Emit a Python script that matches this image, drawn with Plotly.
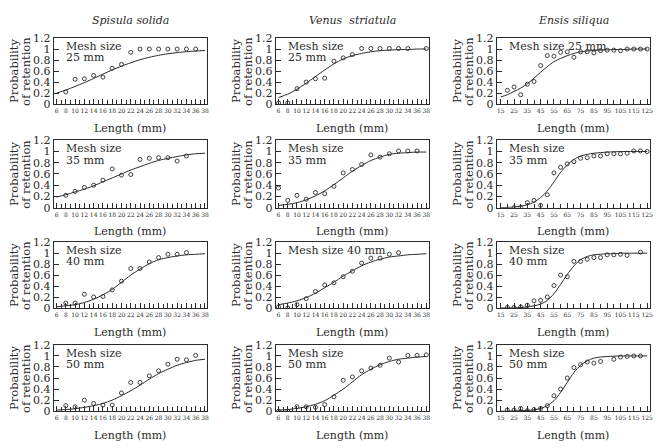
import plotly.graph_objects as go

species = ["Spisula solida", "Venus  striatula", "Ensis siliqua"]
mesh_labels = ["25 mm", "35 mm", "40 mm", "50 mm"]

# ---- Spisula solida ----
spis25_x = [8, 10, 12, 14, 16, 18, 20, 22, 24, 26, 28, 30, 32, 34, 36]
spis25_y = [0.22, 0.45, 0.46, 0.52, 0.49, 0.65, 0.72, 0.94, 1.0, 1.0, 1.0, 1.0, 1.0, 1.0, 1.0]
spis35_x = [8, 10, 12, 14, 16, 18, 20, 22, 24, 26, 28, 30, 32, 34]
spis35_y = [0.22, 0.29, 0.36, 0.40, 0.49, 0.69, 0.58, 0.59, 0.86, 0.88, 0.89, 0.89, 0.83, 0.92]
spis40_x = [8, 10, 12, 14, 16, 18, 20, 22, 24, 26, 28, 30, 32, 34]
spis40_y = [0.09, 0.09, 0.25, 0.20, 0.21, 0.33, 0.49, 0.72, 0.72, 0.84, 0.92, 0.98, 0.98, 1.01]
spis50_x = [8, 10, 12, 14, 16, 18, 20, 22, 24, 26, 28, 30, 32, 34, 36]
spis50_y = [0.10, 0.08, 0.20, 0.14, 0.11, 0.11, 0.33, 0.52, 0.52, 0.64, 0.73, 0.85, 0.94, 0.93, 1.01]

small_fit_x = [6, 8, 10, 12, 14, 16, 18, 20, 22, 24, 26, 28, 30, 32, 34, 36, 38]
spis25_fit = [0.20, 0.255, 0.32, 0.39, 0.466, 0.544, 0.62, 0.69, 0.75, 0.806, 0.85, 0.886, 0.914, 0.935, 0.952, 0.964, 0.974]
spis35_fit = [0.19, 0.23, 0.28, 0.33, 0.39, 0.46, 0.53, 0.60, 0.67, 0.73, 0.79, 0.84, 0.88, 0.91, 0.94, 0.96, 0.97]
spis40_fit = [0.02, 0.04, 0.06, 0.10, 0.16, 0.24, 0.34, 0.47, 0.60, 0.71, 0.81, 0.88, 0.92, 0.95, 0.97, 0.98, 0.99]
spis50_fit = [0.02, 0.03, 0.045, 0.07, 0.10, 0.14, 0.20, 0.28, 0.37, 0.47, 0.58, 0.68, 0.76, 0.83, 0.88, 0.92, 0.94]

# ---- Venus striatula ----
ven25_x = [6, 8, 10, 12, 14, 16, 18, 20, 22, 24, 26, 28, 30, 32, 34, 38]
ven25_y = [0.02, 0.02, 0.28, 0.40, 0.46, 0.47, 0.78, 0.84, 0.90, 1.01, 1.01, 1.01, 1.01, 1.01, 1.01, 1.01]
ven35_x = [6, 8, 10, 12, 14, 16, 18, 20, 22, 24, 26, 28, 30, 32, 34, 36]
ven35_y = [0.35, 0.13, 0.22, 0.15, 0.27, 0.25, 0.38, 0.62, 0.68, 0.77, 0.94, 0.90, 0.96, 1.01, 1.01, 1.01]
ven40_x = [6, 8, 10, 12, 14, 16, 18, 20, 22, 24, 26, 28, 30, 32]
ven40_y = [0.02, 0.0, 0.06, 0.17, 0.30, 0.42, 0.46, 0.57, 0.67, 0.82, 0.91, 0.91, 0.98, 1.01]
ven50_x = [6, 8, 10, 12, 14, 16, 18, 20, 22, 24, 26, 28, 30, 32, 34, 36, 38]
ven50_y = [0.0, 0.0, 0.08, 0.08, 0.07, 0.12, 0.26, 0.56, 0.62, 0.73, 0.78, 0.83, 0.96, 0.89, 1.01, 1.01, 1.02]

ven25_fit = [0.12, 0.18, 0.27, 0.38, 0.50, 0.62, 0.73, 0.82, 0.88, 0.92, 0.95, 0.97, 0.98, 0.99, 0.99, 1.0, 1.0]
ven35_fit = [0.04, 0.06, 0.09, 0.14, 0.21, 0.30, 0.41, 0.53, 0.65, 0.75, 0.84, 0.90, 0.95, 0.97, 0.98, 0.99, 0.99]
ven40_fit = [0.06, 0.09, 0.13, 0.19, 0.27, 0.37, 0.47, 0.58, 0.68, 0.77, 0.84, 0.89, 0.93, 0.95, 0.97, 0.98, 0.99]
ven50_fit = [0.02, 0.03, 0.05, 0.08, 0.125, 0.19, 0.29, 0.40, 0.53, 0.66, 0.76, 0.84, 0.90, 0.94, 0.96, 0.98, 0.99]

# ---- Ensis siliqua ----
ens25_x = [20, 25, 30, 35, 40, 45, 50, 55, 60, 65, 70, 75, 80, 85, 90, 95, 100, 105, 110, 115, 120, 125]
ens25_y = [0.25, 0.31, 0.17, 0.36, 0.41, 0.70, 0.88, 0.87, 0.94, 0.95, 0.85, 0.95, 0.95, 0.93, 0.97, 0.98, 0.98, 0.97, 1.0, 1.0, 1.0, 1.0]
ens35_x = [25, 30, 35, 40, 45, 50, 55, 60, 65, 70, 75, 80, 85, 90, 95, 100, 105, 110, 115, 120, 125]
ens35_y = [0.0, 0.0, 0.09, 0.13, 0.04, 0.23, 0.62, 0.72, 0.78, 0.82, 0.88, 0.89, 0.92, 0.92, 0.96, 0.96, 0.96, 0.97, 1.01, 1.01, 1.0]
ens40_x = [20, 25, 30, 35, 40, 45, 50, 55, 60, 65, 70, 75, 80, 85, 90, 95, 100, 105, 110, 120]
ens40_y = [0.01, 0.01, 0.02, 0.05, 0.13, 0.14, 0.20, 0.41, 0.60, 0.57, 0.85, 0.85, 0.89, 0.92, 0.92, 0.97, 0.97, 0.98, 0.96, 1.02]
ens50_x = [20, 25, 30, 35, 40, 45, 50, 55, 60, 65, 70, 75, 80, 85, 90, 100, 105, 110, 115, 120]
ens50_y = [0.02, 0.02, 0.05, 0.01, 0.03, 0.05, 0.10, 0.28, 0.40, 0.60, 0.79, 0.84, 0.89, 0.87, 0.90, 0.94, 0.98, 0.99, 1.0, 1.0]

large_fit_x = [15, 20, 25, 30, 35, 40, 45, 50, 55, 60, 65, 70, 75, 80, 85, 90, 95, 100, 105, 110, 115, 120, 125]
ens25_fit = [0.13, 0.17, 0.23, 0.29, 0.37, 0.47, 0.58, 0.68, 0.77, 0.83, 0.88, 0.92, 0.95, 0.965, 0.975, 0.98, 0.985, 0.99, 0.99, 0.995, 1.0, 1.0, 1.0]
ens35_fit = [0.0, 0.005, 0.01, 0.03, 0.05, 0.10, 0.18, 0.30, 0.46, 0.63, 0.76, 0.86, 0.92, 0.95, 0.97, 0.98, 0.99, 0.995, 1.0, 1.0, 1.0, 1.0, 1.0]
ens40_fit = [0.0, 0.0, 0.0, 0.01, 0.02, 0.04, 0.07, 0.14, 0.26, 0.43, 0.61, 0.77, 0.88, 0.94, 0.97, 0.98, 0.99, 0.99, 1.0, 1.0, 1.0, 1.0, 1.0]
ens50_fit = [0.0, 0.0, 0.005, 0.01, 0.012, 0.025, 0.05, 0.10, 0.19, 0.34, 0.52, 0.70, 0.83, 0.91, 0.96, 0.98, 0.99, 0.995, 1.0, 1.0, 1.0, 1.0, 1.0]

panels = [
    [(spis25_x, spis25_y, small_fit_x, spis25_fit), (ven25_x, ven25_y, small_fit_x, ven25_fit), (ens25_x, ens25_y, large_fit_x, ens25_fit)],
    [(spis35_x, spis35_y, small_fit_x, spis35_fit), (ven35_x, ven35_y, small_fit_x, ven35_fit), (ens35_x, ens35_y, large_fit_x, ens35_fit)],
    [(spis40_x, spis40_y, small_fit_x, spis40_fit), (ven40_x, ven40_y, small_fit_x, ven40_fit), (ens40_x, ens40_y, large_fit_x, ens40_fit)],
    [(spis50_x, spis50_y, small_fit_x, spis50_fit), (ven50_x, ven50_y, small_fit_x, ven50_fit), (ens50_x, ens50_y, large_fit_x, ens50_fit)],
]
one_line = {(0, 2), (2, 1)}

W, H = 663, 448
col_px = [(54, 208), (277, 431), (499, 653)]
row_px = [(33, 101), (138.3, 207.7), (243.3, 311), (349, 417.3)]
xranges = [[5.4, 38.45], [5.4, 38.6], [12.0, 127.2]]

FONT = "DejaVu Serif"
INK = "#2a2a2a"
fig = go.Figure()
annotations = []

for r in range(4):
    for c in range(3):
        n = r * 3 + c + 1
        xs, ys, fx, fy = panels[r][c]
        xa = "x" if n == 1 else f"x{n}"
        ya = "y" if n == 1 else f"y{n}"
        fig.add_trace(go.Scatter(x=fx, y=fy, mode="lines", line=dict(color=INK, width=1, shape="spline", smoothing=0.8),
                                 xaxis=xa, yaxis=ya, showlegend=False, hoverinfo="skip"))
        fig.add_trace(go.Scatter(x=xs, y=ys, mode="markers",
                                 marker=dict(symbol="circle-open", size=4, color=INK, line=dict(width=0.9, color=INK)),
                                 xaxis=xa, yaxis=ya, showlegend=False))
        x0, x1 = col_px[c]
        y0, y1 = row_px[r]
        if c < 2:
            tv = list(range(6, 39, 2))
            minor = dict(dtick=1, tick0=6, ticks="inside", ticklen=4, tickcolor=INK)
        else:
            tv = list(range(15, 126, 10))
            minor = dict(dtick=5, tick0=15, ticks="inside", ticklen=4, tickcolor=INK)
        xkey = "xaxis" if n == 1 else f"xaxis{n}"
        ykey = "yaxis" if n == 1 else f"yaxis{n}"
        fig.layout[xkey] = dict(domain=[x0 / W, x1 / W], anchor=ya, range=xranges[c],
                                tickvals=tv, ticktext=[str(v) for v in tv], ticks="inside", ticklen=5,
                                tickangle=0,
                                tickcolor=INK, minor=minor, showline=True, linecolor=INK, linewidth=1,
                                mirror=True, showgrid=False, zeroline=False,
                                tickfont=dict(family=FONT, size=6, color=INK), ticklabelstandoff=1)
        yv = [0, 0.2, 0.4, 0.6, 0.8, 1.0, 1.2]
        fig.layout[ykey] = dict(domain=[1 - y1 / H, 1 - y0 / H], anchor=xa, range=[0, 1.2],
                                tickvals=yv, ticktext=["0", "0.2", "0.4", "0.6", "0.8", "1", "1.2"],
                                ticks="inside", ticklen=5, tickcolor=INK, showline=True, linecolor=INK,
                                linewidth=1, mirror=True, showgrid=False, zeroline=False,
                                tickfont=dict(family=FONT, size=11, color=INK))
        # mesh annotations
        if (r, c) in one_line:
            annotations.append(dict(text=f"Mesh size {mesh_labels[r]}", xref=f"{xa} domain", yref=ya,
                                    x=0.07, y=1.05, xanchor="left", yanchor="middle", showarrow=False,
                                    font=dict(family=FONT, size=11, color=INK)))
        else:
            annotations.append(dict(text="Mesh size", xref=f"{xa} domain", yref=ya,
                                    x=0.07, y=1.05, xanchor="left", yanchor="middle", showarrow=False,
                                    font=dict(family=FONT, size=11, color=INK)))
            annotations.append(dict(text=mesh_labels[r], xref=f"{xa} domain", yref=ya,
                                    x=0.07, y=0.84, xanchor="left", yanchor="middle", showarrow=False,
                                    font=dict(family=FONT, size=11, color=INK)))
        # x-axis title
        annotations.append(dict(text="Length (mm)", xref="paper", yref="paper",
                                x=(x0 + x1) / 2 / W, y=1 - (y1 + 25) / H, xanchor="center", yanchor="middle",
                                showarrow=False, font=dict(family=FONT, size=11, color=INK)))
        # y-axis title (two rotated lines)
        for txt, dx in (("Probability", 40), ("of retention", 28)):
            annotations.append(dict(text=txt, xref="paper", yref="paper",
                                    x=(x0 - dx) / W, y=1 - (y0 + y1) / 2 / H, xanchor="center", yanchor="middle",
                                    textangle=-90, showarrow=False,
                                    font=dict(family=FONT, size=11.5, color=INK)))

for c in range(3):
    x0, x1 = col_px[c]
    annotations.append(dict(text=f"<i>{species[c]}</i>", xref="paper", yref="paper",
                            x=(x0 + x1) / 2 / W, y=1 - 15 / H, xanchor="center", yanchor="middle",
                            showarrow=False, font=dict(family=FONT, size=11, color=INK)))

fig.update_layout(width=W, height=H, margin=dict(l=0, r=0, t=0, b=0),
                  paper_bgcolor="white", plot_bgcolor="white", annotations=annotations)
fig.write_html("out.html")
